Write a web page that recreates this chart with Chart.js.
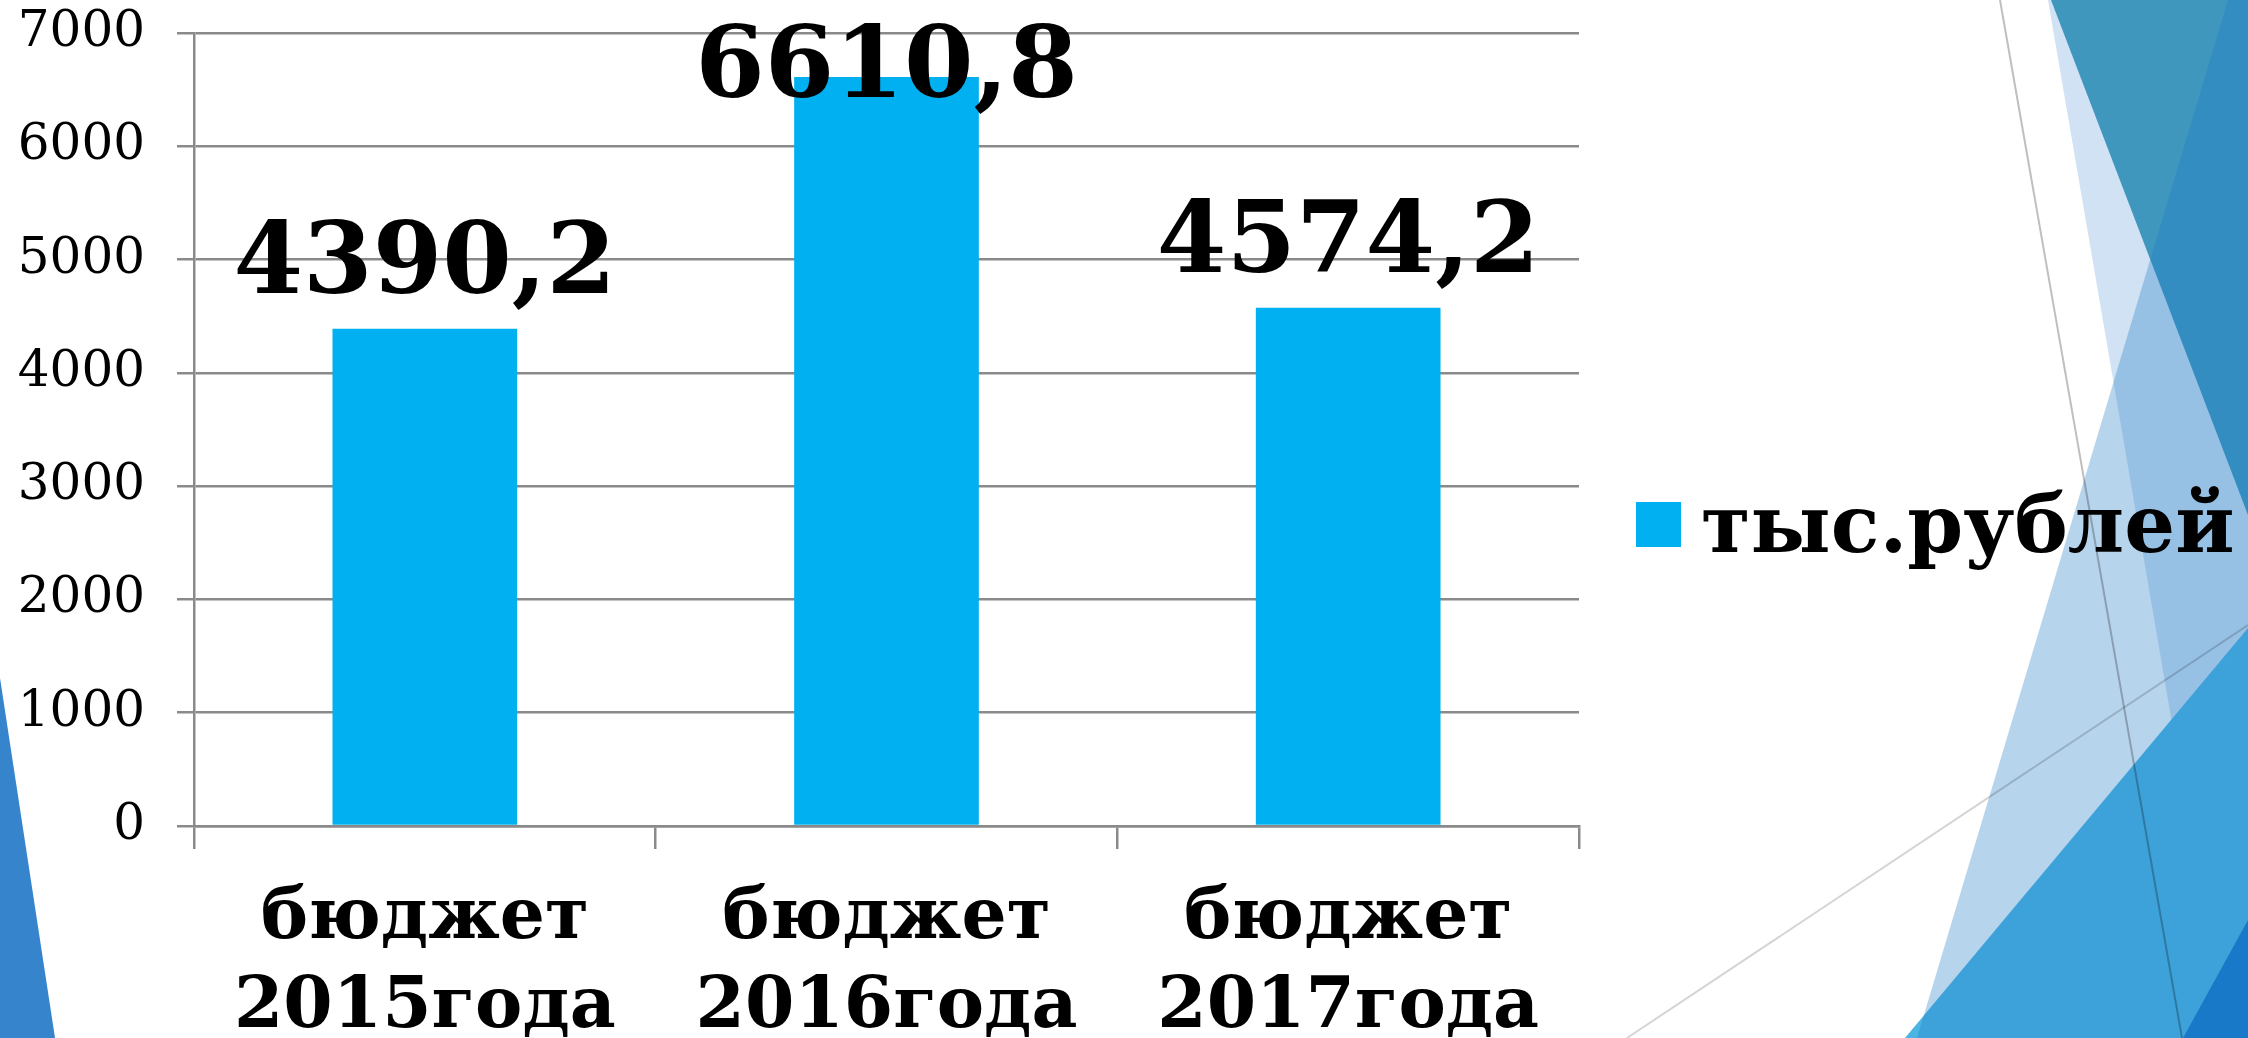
<!DOCTYPE html>
<html>
<head>
<meta charset="utf-8">
<script src="https://cdn.jsdelivr.net/npm/chart.js@4.4.1/dist/chart.umd.min.js"></script>
<style>
html,body{margin:0;padding:0;background:#fff;overflow:hidden;}
#wrap{position:relative;width:2248px;height:1038px;}
#bg{position:absolute;left:0;top:0;}
#c{position:absolute;left:0;top:0;}
</style>
</head>
<body>
<div id="wrap">
<svg id="bg" width="2248" height="1038" viewBox="0 0 2248 1038">
  <polygon points="2048,0 2248,0 2248,1038 2226,1038" fill="#d0e2f3"/>
  <polygon points="2051,0 2248,0 2248,515" fill="#3f97bd"/>
  <polygon points="2248,628 2248,1038 1905,1038" fill="#4ab5e2"/>
  <polygon points="2228,0 2248,0 2248,1038 1917,1038" fill="rgb(30,120,200)" fill-opacity="0.32"/>
  <polygon points="2248,920 2248,1038 2183,1038" fill="#1779c8"/>
  <polygon points="0,678 55,1038 0,1038" fill="#3584cc"/>
  <line x1="2000" y1="0" x2="2182" y2="1038" stroke="#000" stroke-opacity="0.25" stroke-width="2"/>
  <line x1="1627" y1="1038" x2="2248" y2="625" stroke="#000" stroke-opacity="0.17" stroke-width="2"/>
</svg>
<canvas id="c" width="2248" height="1038"></canvas>
</div>
<script>
// ---- data ----
const categories = [['бюджет', '2015года'], ['бюджет', '2016года'], ['бюджет', '2017года']];
const seriesName = 'тыс.рублей';
const values = [4390.2, 6610.8, 4574.2];
const yTickLabels = ['0', '1000', '2000', '3000', '4000', '5000', '6000', '7000'];

const GRID = '#8a8a8a';
const BAR = '#00b0f0';
const SERIF = '"DejaVu Serif", "Liberation Serif", serif';

const valueLabelPlugin = {
  id: 'valueLabels',
  afterDatasetsDraw(chart) {
    const ctx = chart.ctx;
    const meta = chart.getDatasetMeta(0);
    const top = chart.chartArea.top;
    const vals = chart.data.datasets[0].data;
    ctx.save();
    ctx.font = 'bold 100px ' + SERIF;
    ctx.fillStyle = '#000';
    ctx.textAlign = 'center';
    ctx.textBaseline = 'alphabetic';
    meta.data.forEach((bar, i) => {
      const txt = vals[i].toFixed(1).replace('.', ',');
      const y = Math.max(bar.y - 36, top + 64);
      ctx.fillText(txt, bar.x, y);
    });
    ctx.restore();
  }
};

const legendPlugin = {
  id: 'customLegend',
  afterDraw(chart) {
    const ctx = chart.ctx;
    const ds = chart.data.datasets[0];
    const x = chart.chartArea.right + 57;
    ctx.save();
    ctx.fillStyle = ds.backgroundColor;
    ctx.fillRect(x, 502, 45, 45);
    ctx.font = 'bold 80px ' + SERIF;
    ctx.fillStyle = '#000';
    ctx.textAlign = 'left';
    ctx.textBaseline = 'alphabetic';
    ctx.fillText(ds.label, x + 65, 552);
    ctx.restore();
  }
};

new Chart(document.getElementById('c'), {
  type: 'bar',
  data: {
    labels: categories,
    datasets: [{
      label: seriesName,
      data: values,
      backgroundColor: BAR,
      borderWidth: 0,
      barPercentage: 0.5,
      categoryPercentage: 0.8
    }]
  },
  options: {
    responsive: false,
    devicePixelRatio: 1,
    animation: false,
    layout: { padding: { left: 0, right: 669, top: 33, bottom: 0 } },
    plugins: { legend: { display: false }, tooltip: { enabled: false } },
    scales: {
      x: {
        grid: { display: true, drawOnChartArea: false, drawTicks: true, tickLength: 23, color: GRID, lineWidth: 2.5, offset: true },
        border: { display: true, color: GRID, width: 2.5 },
        ticks: { font: { family: SERIF, size: 71, weight: 'bold', lineHeight: 1.25 }, color: '#000', padding: 26, maxRotation: 0, autoSkip: false },
        afterFit(s) { s.height = 212; }
      },
      y: {
        min: 0, max: 7000,
        grid: { color: GRID, lineWidth: 2.5, tickLength: 17 },
        border: { display: true, color: GRID, width: 2.5 },
        ticks: { stepSize: 1000, font: { family: SERIF, size: 50 }, color: '#000', padding: 32,
                 callback: (v, i) => yTickLabels[i] },
        afterFit(s) { s.width = 194; s.paddingTop = 0; s.paddingBottom = 0; }
      }
    }
  },
  plugins: [valueLabelPlugin, legendPlugin]
});
</script>
</body>
</html>
